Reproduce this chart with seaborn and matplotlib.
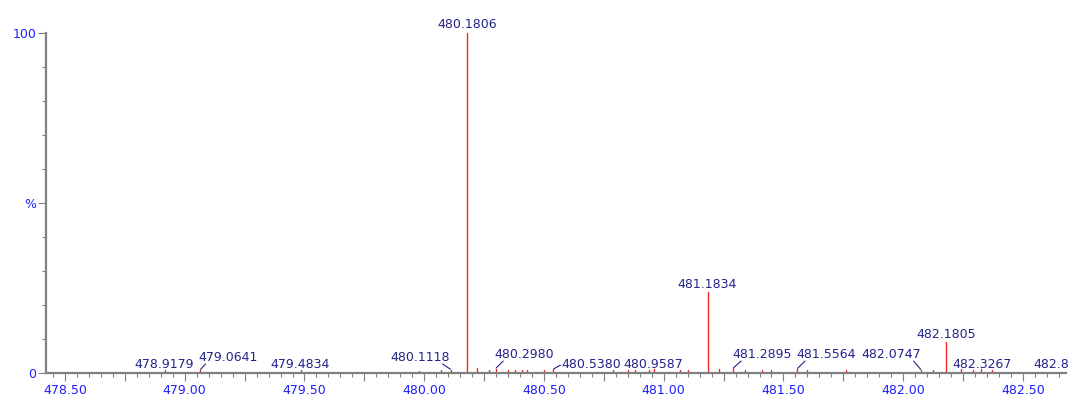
import numpy as np
import pandas as pd
import matplotlib
matplotlib.use("Agg")
import matplotlib.pyplot as plt
import seaborn as sns
from matplotlib.ticker import MultipleLocator, FixedLocator, FuncFormatter

# ---- data (m/z, relative intensity %) ----
peak_mz = [478.9179, 479.0641, 479.4834, 479.98, 480.07, 480.1118, 480.1806,
           480.22, 480.27, 480.2980, 480.35, 480.38, 480.41, 480.43, 480.50,
           480.5380, 480.79, 480.85, 480.88, 480.94, 480.9587, 481.07, 481.10,
           481.1834, 481.23, 481.2895, 481.34, 481.41, 481.45, 481.5564,
           481.60, 481.76, 482.0747, 482.125, 482.1805, 482.24, 482.29,
           482.3267, 482.37]
peak_int = [0.8, 0.9, 0.8, 0.7, 0.8, 1.0, 100.0,
            1.6, 0.9, 1.3, 0.9, 1.0, 0.9, 0.8, 0.8,
            1.1, 0.8, 0.8, 0.8, 0.8, 1.1, 0.8, 0.9,
            23.9, 1.1, 1.4, 0.8, 1.0, 0.8, 1.2,
            0.8, 0.8, 0.9, 0.9, 9.0, 1.2, 0.9,
            1.1, 0.9]

label_text = ["478.9179", "479.0641", "479.4834", "480.1118", "480.1806",
              "480.2980", "480.5380", "480.9587", "481.1834", "481.2895",
              "481.5564", "482.0747", "482.1805", "482.3267"]
label_x = [478.913, 479.181, 479.481, 479.982, 480.178,
           480.417, 480.696, 480.955, 481.180, 481.410,
           481.677, 481.949, 482.178, 482.329]
label_y = [1.47, 3.53, 1.47, 3.53, 101.5,
           4.41, 1.47, 1.47, 25.1, 4.41,
           4.41, 4.41, 10.3, 1.47]
leader_relx = [None, 0.12, None, 0.88, None,
               0.15, -0.01, None, None, 0.15,
               0.15, 0.88, None, None]
leader_rely = [0, 0, 0, 0, 0, 0, 0.45, 0, 0, 0, 0, 0, 0, 0]

cut_label_text = "482.8"
cut_label_x = 482.545
cut_label_y = 1.47

xtick_major = 0.25
xtick_minor = 0.05

# ---- styling ----
sns.set_style("white")
plt.rcParams["font.family"] = ["DejaVu Sans"]
navy = "#23238a"
blue = "#1e1eff"
gray = "#808080"
red = "#f02828"

fig = plt.figure(figsize=(10.69, 3.96), dpi=100)
ax = fig.add_axes([46 / 1069, 23 / 396, (1066 - 46) / 1069, 340 / 396])

# stick spectrum via seaborn (one vertical line per peak)
rows = []
for i, (m, h) in enumerate(zip(peak_mz, peak_int)):
    rows.append({"peak": i, "mz": m, "int": 0.0})
    rows.append({"peak": i, "mz": m, "int": h})
df = pd.DataFrame(rows)
sns.lineplot(data=df, x="mz", y="int", units="peak", estimator=None,
             sort=False, color=red, lw=1.0, ax=ax, legend=False)

ax.set_xlim(478.4207, 482.6797)
ax.set_ylim(0, 100)
ax.set_xlabel("")
ax.set_ylabel("")

for s in ["top", "right"]:
    ax.spines[s].set_visible(False)
for s in ["left", "bottom"]:
    ax.spines[s].set_color(gray)
    ax.spines[s].set_linewidth(1.6)

ax.xaxis.set_major_locator(MultipleLocator(xtick_major))
ax.xaxis.set_minor_locator(MultipleLocator(xtick_minor))
ax.xaxis.set_major_formatter(FuncFormatter(
    lambda v, p: f"{v:.2f}" if abs(v * 2 - round(v * 2)) < 1e-6 else ""))
ax.yaxis.set_major_locator(FixedLocator([0, 50, 100]))
ax.yaxis.set_minor_locator(MultipleLocator(10))
ax.set_yticklabels(["0", "%", "100"])

ax.tick_params(axis="both", which="major", length=5.5, width=0.8, color=gray,
               labelsize=9, labelcolor=blue, direction="out")
ax.tick_params(axis="both", which="minor", length=3, width=0.8, color=gray,
               direction="out")
ax.tick_params(axis="x", which="major", pad=2.5, bottom=True)
ax.tick_params(axis="x", which="minor", bottom=True)
ax.tick_params(axis="y", which="major", pad=1.5, left=True)
ax.tick_params(axis="y", which="minor", left=True)

# peak labels
def peak_height(lbl):
    m = float(lbl)
    i = int(np.argmin(np.abs(np.array(peak_mz) - m)))
    return peak_mz[i], peak_int[i]

for t, lx, ly, rx, ry in zip(label_text, label_x, label_y, leader_relx, leader_rely):
    pm, ph = peak_height(t)
    if rx is None:
        ax.text(lx, ly, t, ha="center", va="baseline", fontsize=9,
                color=navy, clip_on=False)
    else:
        ax.annotate(t, xy=(pm, ph), xytext=(lx, ly), textcoords="data",
                    ha="center", va="baseline", fontsize=9, color=navy,
                    annotation_clip=False,
                    arrowprops=dict(arrowstyle="-", color=navy, lw=0.8,
                                    shrinkA=0, shrinkB=0.5, patchA=None,
                                    relpos=(rx, ry)))

ax.text(cut_label_x, cut_label_y, cut_label_text, ha="left", va="baseline",
        fontsize=9, color=navy, clip_on=False)

fig.savefig("out.png", dpi=100)
